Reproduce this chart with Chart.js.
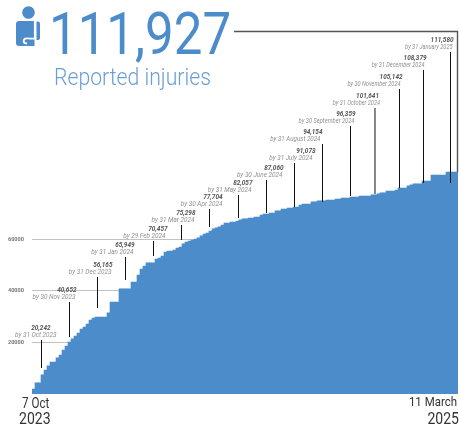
<!DOCTYPE html>
<html><head><meta charset="utf-8">
<script src="https://cdn.jsdelivr.net/npm/chart.js@4/dist/chart.umd.min.js"></script>
<style>html,body{margin:0;padding:0;background:#fff;overflow:hidden}
#wrap{position:relative;width:459px;height:430px}
canvas{position:absolute;left:0;top:0}
svg{position:absolute;left:0;top:0}</style></head>
<body><div id="wrap"><canvas id="c" width="459" height="430"></canvas>
<svg width="60" height="60" viewBox="0 0 60 60"><circle cx="28.5" cy="12.5" r="6.3" fill="#4c8ccb"/>
<path d="M19 21h15.5v25H19a3 3 0 0 1-3-3V24a3 3 0 0 1 3-3z" fill="#4c8ccb"/>
<path d="M36.5 21.5h1.5a2 2 0 0 1 2 2V38a2 2 0 0 1-2 2h-1.5z" fill="#4c8ccb"/>
<path d="M34.8 21v17.5c-2 .2-5 0-7.5-.2-2.5-.2-3.6 1.2-3.6 2.6s1.4 2.6 3.4 2.6" fill="none" stroke="#fff" stroke-width="1.8"/></svg>
</div>
<script>
const barValues = [1900,4300,4300,7400,9300,10900,12400,12400,14000,15100,17100,18600,20200,21400,22500,23700,25200,26000,27200,28700,29500,29900,29900,29900,29900,31500,35700,35700,35700,40800,40800,40800,40800,43500,43500,46200,48500,49700,50900,50900,50900,52400,52800,53600,55100,55500,55500,55900,56700,57100,58300,59000,59400,59800,60200,60600,61400,62100,62500,63300,64100,64500,64900,65600,66400,66400,66800,66800,67200,67600,68000,68000,68300,68300,68700,68700,69500,69900,69900,70300,70300,71100,71100,71800,71800,72200,72200,72600,72600,73400,73800,73800,73800,74600,74600,75000,75000,75000,75300,75300,75300,75700,75700,76100,76100,76100,76500,76500,76500,76900,76900,76900,76900,77300,77300,77700,78100,78100,78800,78800,78800,79200,80000,80000,80000,80800,81200,81600,81600,81600,82700,82700,82700,85000,85000,85000,85000,85000,86200,86200,86200,86200];
const yTickValues = [20000,40000,60000];
const calloutTotals = ["20,242","40,652","56,165","65,949","70,457","75,298","77,704","82,057","87,060","91,073","94,154","96,359","101,641","105,142","108,379","111,580"];
const calloutDates = ["by 31 Oct 2023","by 30 Nov 2023","by 31 Dec 2023","by 31 Jan 2024","by 29 Feb 2024","by 31 Mar 2024","by 30 Apr 2024","by 31 May 2024","by 30 June 2024","by 31 July 2024","by 31 August 2024","by 30 September 2024","by 31 October 2024","by 30 November 2024","by 31 December 2024","by 31 January 2025"];
const calloutBarIndex = [2.67,12,21.33,30.67,40,49.33,58.67,68.33,77.67,87,96.33,105.67,113.83,122,130,139];
const calloutLineTop = [20971,35728,45437,53204,59417,65631,71845,77282,83107,89709,97087,104078,111068,118447,125825,132816];
const calloutLineEnd = [10097,22136,33398,44272,53592,59806,64854,68350,70291,72621,74563,76893,77670,80000,81942,81942];
const totalLabel = "111,927";
const subtitleLabel = "Reported injuries";
const totalLineValue = 140971;
const startLabels = ["7 Oct","2023"];
const endLabels = ["11 March","2025"];

// layout only: right-edge offsets of callout text from its line, and text squeeze
const dateDx = [15,6,14,8,12,13,13,13,16,18,-2,4,5,1,1,2];
const numDx  = [9,7,15,9,14,14,13,14,17,21,0,5,4,3,3,3];
const dateSqueeze = [.8,.8,.8,.8,.8,.8,.8,.8,.8,.8,.78,.72,.7,.7,.7,.7];

function sText(ctx,t,x,y,font,color,align,sx){
  ctx.save();ctx.translate(x,y);ctx.scale(sx,1);
  ctx.font=font;ctx.fillStyle=color;ctx.textAlign=align;ctx.textBaseline='alphabetic';
  ctx.fillText(t,0,0);ctx.restore();
}
const overlay={id:'overlay',afterDraw(ch){
  const ctx=ch.ctx,xs=ch.scales.x,ys=ch.scales.y;
  // hero
  sText(ctx,totalLabel,49,54,'400 59px Roboto','#4c8ccb','left',0.865);
  sText(ctx,subtitleLabel,54,85,'300 24.5px Roboto','#6a9fd4','left',0.865);
  // total bracket
  const rx=xs.right-0.5, ty=Math.round(ys.getPixelForValue(totalLineValue))+0.5;
  ctx.strokeStyle='#555';ctx.lineWidth=1.4;ctx.beginPath();
  ctx.moveTo(234,ty);ctx.lineTo(rx,ty);ctx.lineTo(rx,ys.getPixelForValue(barValues[barValues.length-1]));ctx.stroke();
  // callouts
  calloutTotals.forEach((t,i)=>{
    const x=xs.getPixelForValue(calloutBarIndex[i]);
    const y0=ys.getPixelForValue(calloutLineTop[i]),y1=ys.getPixelForValue(calloutLineEnd[i]);
    ctx.strokeStyle='#111';ctx.lineWidth=1;ctx.beginPath();ctx.moveTo(x,y0);ctx.lineTo(x,y1);ctx.stroke();
    sText(ctx,calloutDates[i],x+dateDx[i],y0-3,'italic 8px Roboto','#909090','right',dateSqueeze[i]);
    sText(ctx,t,x+numDx[i],y0-10,'italic bold 8px Roboto','#555','right',0.8);
  });
  // axis ends
  sText(ctx,startLabels[0],22,408,'14.5px Roboto','#333','left',0.8);
  sText(ctx,startLabels[1],19,424,'16.5px Roboto','#333','left',0.85);
  sText(ctx,endLabels[0],457,406,'13.5px Roboto','#333','right',0.85);
  sText(ctx,endLabels[1],459,424,'16.5px Roboto','#333','right',0.85);
}};
new Chart(document.getElementById('c'),{
  type:'bar',
  data:{labels:barValues.map((_,i)=>i),datasets:[{data:barValues,backgroundColor:'#4c8ccb',borderWidth:0,barPercentage:1,categoryPercentage:1}]},
  options:{responsive:false,animation:false,
    layout:{padding:{top:20.62,right:1,left:0,bottom:0}},
    plugins:{legend:{display:false},tooltip:{enabled:false},title:{display:false}},
    scales:{
      x:{grid:{display:false},border:{display:false},ticks:{display:false},afterFit(s){s.height=36;}},
      y:{min:0,max:145000,border:{display:false},
        grid:{color:'#c2c2c2',lineWidth:1,drawTicks:false},
        afterBuildTicks(s){s.ticks=yTickValues.map(v=>({value:v}));},
        afterFit(s){s.width=32;},
        ticks:{padding:8,autoSkip:false,color:'#777',font:{family:'Roboto',size:5.6,weight:'bold'},callback:v=>String(v)}}
    }},
  plugins:[overlay]
});
</script></body></html>
